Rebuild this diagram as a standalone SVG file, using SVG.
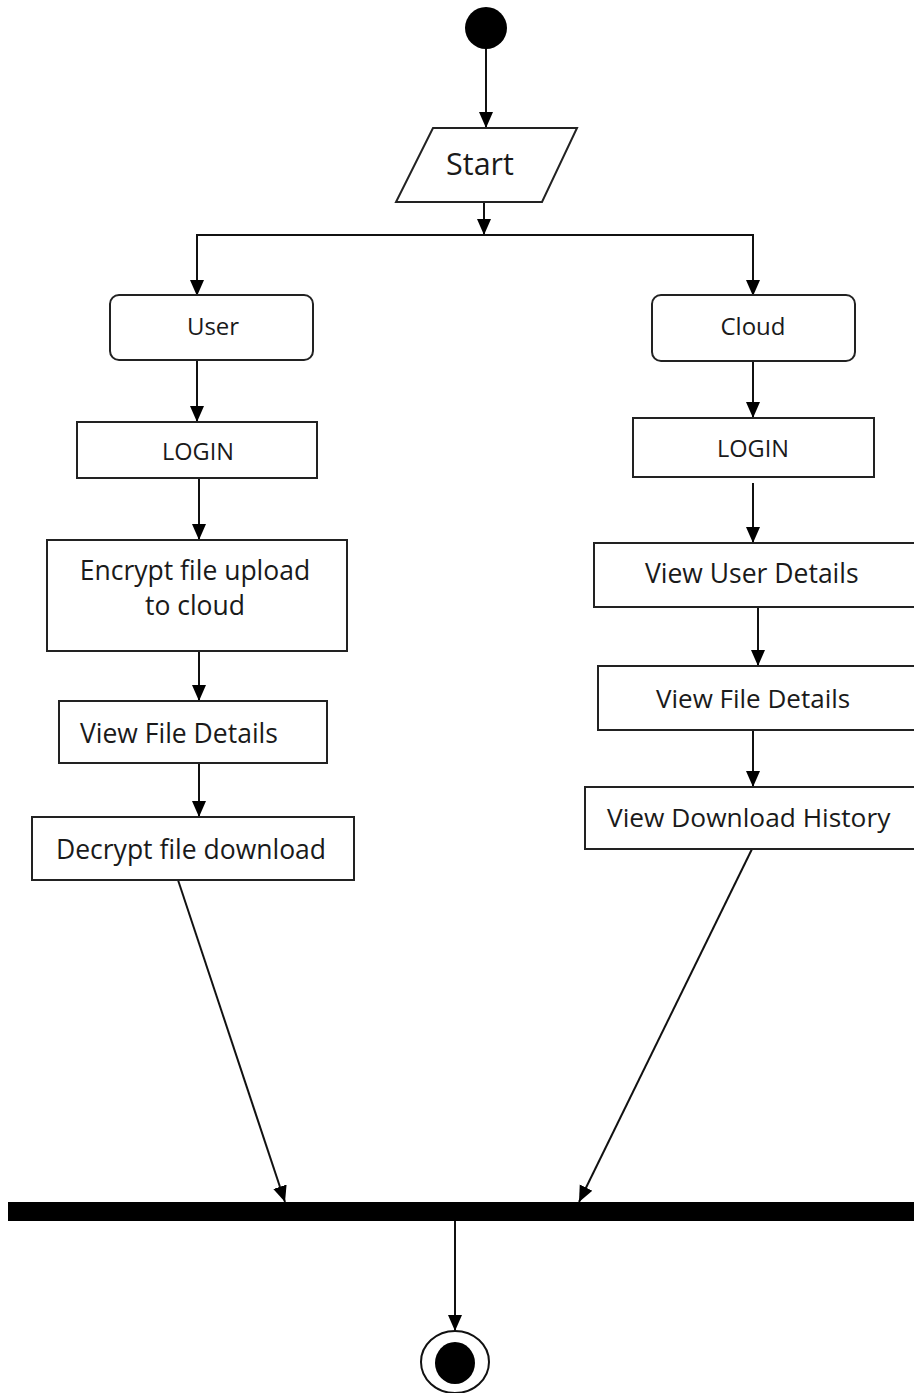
<svg xmlns="http://www.w3.org/2000/svg" width="914" height="1393" viewBox="0 0 914 1393">
  <style>
    .box { fill: #ffffff; stroke: #222222; stroke-width: 2; }
    .edge { fill: none; stroke: #111111; stroke-width: 2; }
    .lbl { font-family: "Open Sans", "Noto Sans", "DejaVu Sans", sans-serif; fill: #1a1a1a; }
    .mid { text-anchor: middle; }
  </style>
  <defs>
    <marker id="arrow" markerUnits="userSpaceOnUse" markerWidth="17" markerHeight="16" viewBox="0 0 17 16" refX="16" refY="8" orient="auto">
      <path d="M0,1 L16,8 L0,15 Z" fill="#000000"/>
    </marker>
  </defs>

  <rect x="0" y="0" width="914" height="1393" fill="#ffffff"/>

  <!-- connectors -->
  <g id="connectors">
    <line class="edge" x1="486" y1="48" x2="486" y2="128" marker-end="url(#arrow)"/>
    <line class="edge" x1="484" y1="202" x2="484" y2="235" marker-end="url(#arrow)"/>
    <polyline class="edge" points="197,295 197,235 753,235 753,295"/>
    <line class="edge" x1="197" y1="280" x2="197" y2="296" marker-end="url(#arrow)"/>
    <line class="edge" x1="753" y1="280" x2="753" y2="296" marker-end="url(#arrow)"/>
    <!-- user lane -->
    <line class="edge" x1="197" y1="360" x2="197" y2="422" marker-end="url(#arrow)"/>
    <line class="edge" x1="199" y1="478" x2="199" y2="540" marker-end="url(#arrow)"/>
    <line class="edge" x1="199" y1="642" x2="199" y2="701" marker-end="url(#arrow)"/>
    <line class="edge" x1="199" y1="757" x2="199" y2="817" marker-end="url(#arrow)"/>
    <line class="edge" x1="178" y1="880" x2="285" y2="1202" marker-end="url(#arrow)"/>
    <!-- cloud lane -->
    <line class="edge" x1="753" y1="361" x2="753" y2="418" marker-end="url(#arrow)"/>
    <line class="edge" x1="753" y1="483" x2="753" y2="543" marker-end="url(#arrow)"/>
    <line class="edge" x1="758" y1="607" x2="758" y2="666" marker-end="url(#arrow)"/>
    <line class="edge" x1="753" y1="726" x2="753" y2="787" marker-end="url(#arrow)"/>
    <line class="edge" x1="752" y1="849" x2="579" y2="1202" marker-end="url(#arrow)"/>
    <!-- join to final -->
    <line class="edge" x1="455" y1="1221" x2="455" y2="1331" marker-end="url(#arrow)"/>
  </g>

  <!-- initial node -->
  <g id="initial">
    <circle cx="486" cy="28" r="21" fill="#000000"/>
  </g>

  <g id="start">
    <polygon class="box" points="433,128 577,128 542,202 396,202"/>
    <text class="lbl mid" x="480" y="175" font-size="30.5">Start</text>
  </g>

  <g id="user">
    <rect class="box" x="110" y="295" width="203" height="65" rx="9"/>
    <text class="lbl mid" x="213" y="335" font-size="24">User</text>
  </g>

  <g id="user-login">
    <rect class="box" x="77" y="422" width="240" height="56"/>
    <text class="lbl mid" x="198" y="460" font-size="23.5">LOGIN</text>
  </g>

  <g id="encrypt-upload">
    <rect class="box" x="47" y="540" width="300" height="111"/>
    <text class="lbl mid" x="195" y="580" font-size="26.5">Encrypt file upload</text>
    <text class="lbl mid" x="195" y="615" font-size="26.5">to cloud</text>
  </g>

  <g id="user-file-details">
    <rect class="box" x="59" y="701" width="268" height="62"/>
    <text class="lbl" x="80" y="743" font-size="26.5">View File Details</text>
  </g>

  <g id="decrypt-download">
    <rect class="box" x="32" y="817" width="322" height="63"/>
    <text class="lbl mid" x="191" y="859" font-size="26.5">Decrypt file download</text>
  </g>

  <g id="cloud">
    <rect class="box" x="652" y="295" width="203" height="66" rx="9"/>
    <text class="lbl mid" x="753" y="335" font-size="24">Cloud</text>
  </g>

  <g id="cloud-login">
    <rect class="box" x="633" y="418" width="241" height="59"/>
    <text class="lbl mid" x="753" y="457" font-size="23.5">LOGIN</text>
  </g>

  <g id="view-user-details">
    <rect class="box" x="594" y="543" width="340" height="64"/>
    <text class="lbl" x="645" y="583" font-size="26.5">View User Details</text>
  </g>

  <g id="cloud-file-details">
    <rect class="box" x="598" y="666" width="336" height="64"/>
    <text class="lbl" x="656" y="708" font-size="26">View File Details</text>
  </g>

  <g id="download-history">
    <rect class="box" x="585" y="787" width="349" height="62"/>
    <text class="lbl" x="607" y="827" font-size="26.3">View Download History</text>
  </g>

  <g id="join-bar">
    <rect x="8" y="1202" width="920" height="19" fill="#000000"/>
  </g>

  <g id="final">
    <ellipse cx="455" cy="1362" rx="34" ry="31" fill="#ffffff" stroke="#111111" stroke-width="2"/>
    <ellipse cx="455" cy="1363" rx="20" ry="21" fill="#000000"/>
  </g>
</svg>
